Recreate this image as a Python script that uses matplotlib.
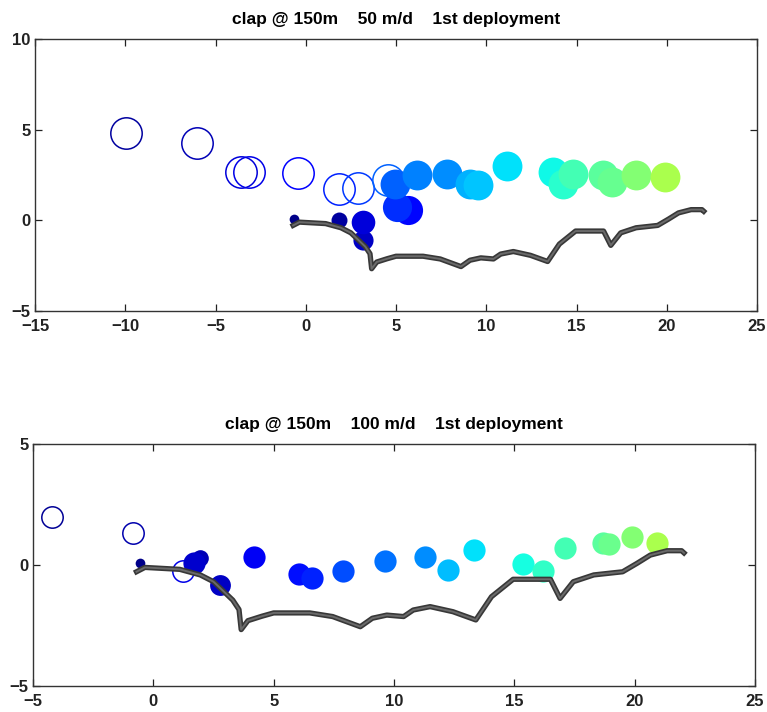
import matplotlib
matplotlib.use('Agg')
import matplotlib.pyplot as plt
import matplotlib.patheffects as pe

plt.rcParams['font.family'] = ['Liberation Sans', 'DejaVu Sans']

# track line (same in both panels)
line_x = [-0.7, -0.35, 1.1, 1.95, 2.5, 3.3, 3.56, 3.65, 3.93, 4.5, 5.0, 6.5, 7.45, 8.6,
          9.1, 9.7, 10.4, 10.8, 11.5, 12.45, 13.4, 14.05, 14.95, 16.5, 16.9, 17.45,
          18.3, 19.5, 20.1, 20.65, 21.35, 21.95, 22.05]
line_y = [-0.28, -0.1, -0.18, -0.41, -0.69, -1.45, -1.84, -2.67, -2.3, -2.12, -1.98, -1.98,
          -2.13, -2.55, -2.2, -2.07, -2.13, -1.86, -1.72, -1.93, -2.27, -1.31, -0.59, -0.59,
          -1.38, -0.69, -0.41, -0.28, 0.07, 0.41, 0.59, 0.59, 0.5]

# panel 1: 50 m/d
open1_x = [-9.96, -6.04, -3.6, -3.14, -0.45, 1.86, 2.88, 4.57]
open1_y = [4.84, 4.27, 2.67, 2.67, 2.63, 1.75, 1.78, 2.25]
open1_c = [0.03, 0.05, 0.08, 0.09, 0.11, 0.16, 0.18, 0.22]

fill1_x = [-0.63, 1.84, 3.19, 3.19, 5.68, 5.04, 4.94, 6.15, 7.81, 9.1, 9.56, 11.17,
           13.72, 14.27, 14.79, 16.48, 16.95, 18.3, 19.9]
fill1_y = [0.09, 0.0, -1.1, -0.09, 0.55, 0.74, 2.03, 2.49, 2.58, 2.03, 1.93, 3.0,
           2.67, 2.03, 2.58, 2.49, 2.12, 2.49, 2.39]
fill1_c = [0.01, 0.03, 0.06, 0.08, 0.13, 0.17, 0.22, 0.25, 0.265, 0.297, 0.32, 0.345,
           0.37, 0.40, 0.43, 0.46, 0.475, 0.51, 0.555]
fill1_s = [7, 11.5, 14.5, 17, 21, 21, 21.5, 21.5, 21.5, 21.5, 21.5, 21.5,
           21.5, 21.5, 21.5, 21.5, 21.5, 21.5, 21.5]

# panel 2: 100 m/d
open2_x = [-4.22, -0.86, 1.24]
open2_y = [1.97, 1.33, -0.23]
open2_c = [0.02, 0.04, 0.09]

fill2_x = [-0.55, 1.94, 1.7, 2.77, 4.18, 6.05, 6.58, 7.87, 9.62, 11.29, 12.25, 13.33,
           15.37, 16.18, 17.1, 18.69, 18.93, 19.87, 20.94]
fill2_y = [0.1, 0.28, 0.1, -0.83, 0.32, -0.38, -0.52, -0.23, 0.17, 0.32, -0.21, 0.62,
           0.04, -0.23, 0.72, 0.9, 0.87, 1.14, 0.9]
fill2_c = [0.01, 0.05, 0.07, 0.06, 0.105, 0.14, 0.16, 0.2, 0.235, 0.265, 0.31, 0.345,
           0.375, 0.41, 0.43, 0.46, 0.48, 0.51, 0.555]
fill2_s = [7, 12, 16, 15, 16, 16, 16, 16, 16, 16, 16, 16,
           16, 16, 16, 16, 16, 16, 16]

cmap = plt.get_cmap('jet')

fig = plt.figure(figsize=(7.67, 7.12), dpi=100)


def panel(ax, title, ox, oy, oc, osize, fx, fy, fc, fs, xlim, ylim, xticks, yticks):
    for x, y, c in zip(ox, oy, oc):
        ax.plot(x, y, 'o', ms=osize, mfc='none', mec=cmap(c), mew=1.1, zorder=2)
    for x, y, c, s in zip(fx, fy, fc, fs):
        ax.plot(x, y, 'o', ms=s, mfc=cmap(c), mec='none', zorder=3)
    ax.plot(line_x, line_y, color='#6a6a6a', lw=1.4, zorder=4,
            path_effects=[pe.Stroke(linewidth=3.8, foreground='#383838'), pe.Normal()])
    ax.set_xlim(xlim)
    ax.set_ylim(ylim)
    ax.set_xticks(xticks)
    ax.set_yticks(yticks)
    ax.set_xticklabels([str(t).replace('-', '\u2212') for t in xticks])
    ax.set_yticklabels([str(t).replace('-', '\u2212') for t in yticks])
    ax.tick_params(direction='in', length=5, width=0.9, top=True, right=True,
                   labelsize=12, colors='#222222')
    ax.tick_params(axis='x', pad=6)
    ax.tick_params(axis='y', pad=3)
    for lab in ax.get_xticklabels() + ax.get_yticklabels():
        lab.set_fontweight('bold')
    for sp in ax.spines.values():
        sp.set_color('#333333')
        sp.set_linewidth(1.0)
    ax.set_title(title, fontsize=12.5, fontweight='bold', pad=11)


ax1 = fig.add_axes([35 / 767, 1 - 311 / 712, 722 / 767, 272 / 712])
panel(ax1, 'clap @ 150m    50 m/d    1st deployment',
      open1_x, open1_y, open1_c, 22.6, fill1_x, fill1_y, fill1_c, fill1_s,
      (-15, 25), (-5, 10), list(range(-15, 30, 5)), [-5, 0, 5, 10])

ax2 = fig.add_axes([33 / 767, 1 - 686 / 712, 722 / 767, 242 / 712])
panel(ax2, 'clap @ 150m    100 m/d    1st deployment',
      open2_x, open2_y, open2_c, 15.4, fill2_x, fill2_y, fill2_c, fill2_s,
      (-5, 25), (-5, 5), list(range(-5, 30, 5)), [-5, 0, 5])

fig.savefig('out.png', dpi=100)
